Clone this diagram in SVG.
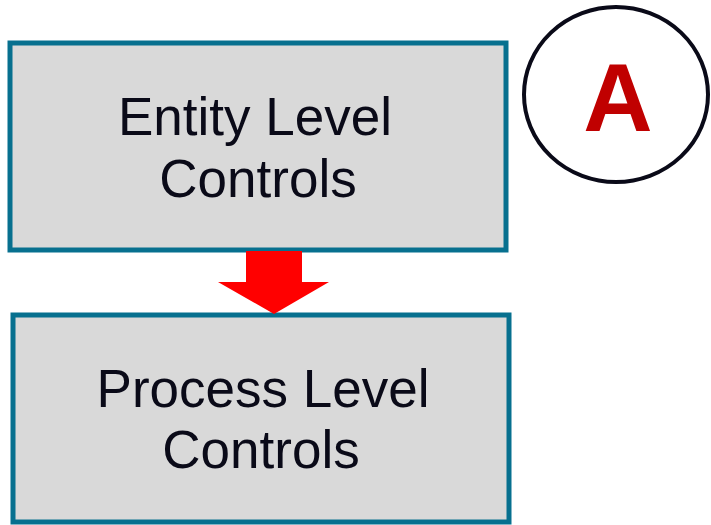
<svg xmlns="http://www.w3.org/2000/svg" width="711" height="525" viewBox="0 0 711 525">
  <style>
    .box { fill: #D9D9D9; stroke: #07708F; stroke-width: 5; }
    .label { font-family: "Liberation Sans", Arial, sans-serif; font-size: 53px; fill: #0A0A18; text-anchor: middle; }
    .badge { fill: #FFFFFF; stroke: #0A0A18; stroke-width: 4; }
    .badge-text { font-family: "Liberation Sans", Arial, sans-serif; font-size: 96px; font-weight: bold; fill: #C00000; text-anchor: middle; }
    .flow { fill: #FF0000; }
  </style>
  <rect width="711" height="525" fill="#FFFFFF"/>

  <!-- upper tier -->
  <g id="entity-level">
    <rect class="box" x="10" y="43" width="496" height="207"/>
    <text class="label" x="255" y="135">Entity Level</text>
    <text class="label" x="258" y="197">Controls</text>
  </g>

  <!-- lower tier -->
  <g id="process-level">
    <rect class="box" x="13" y="315" width="496" height="207"/>
    <text class="label" x="263" y="407">Process Level</text>
    <text class="label" x="261" y="468">Controls</text>
  </g>

  <!-- section marker -->
  <g id="marker-a">
    <ellipse class="badge" cx="616" cy="94.5" rx="92" ry="87.5"/>
    <text class="badge-text" x="618" y="131">A</text>
  </g>

  <g id="connectors">
    <polygon class="flow" points="246,251 302,251 302,282 329,282 274,314 218,282 246,282"/>
  </g>
</svg>
